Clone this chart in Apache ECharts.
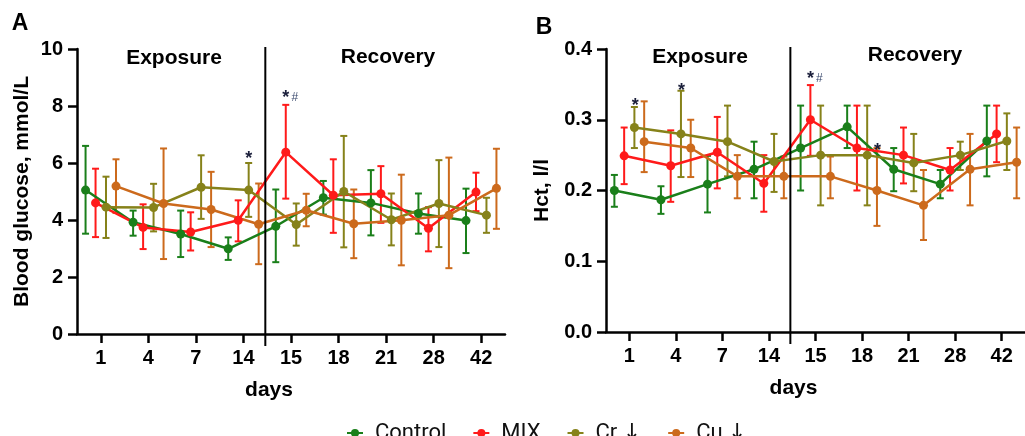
<!DOCTYPE html>
<html>
<head>
<meta charset="utf-8">
<script src="https://cdn.jsdelivr.net/npm/echarts@6/dist/echarts.min.js"></script>
<style>
  html, body { margin: 0; padding: 0; background: #fff; }
  #chart { width: 1025px; height: 436px; }
</style>
</head>
<body>
<div id="chart"></div>
<script>
// days on the x axis
const days = ['1', '4', '7', '14', '15', '18', '21', '28', '42'];

// blood glucose, mmol/L: [mean, lower whisker, upper whisker]
const glucoseControl = [[5.05, 3.52, 6.60], [3.92, 3.45, 4.33], [3.51, 2.70, 4.33], [2.99, 2.60, 3.39], [3.78, 2.52, 5.07], [4.78, 4.19, 5.37], [4.60, 3.46, 5.75], [4.23, 3.52, 4.93], [3.98, 2.84, 5.10]];
const glucoseMix = [[4.60, 3.40, 5.80], [3.74, 2.98, 4.55], [3.58, 2.93, 4.27], [3.99, 3.25, 4.69], [6.38, 4.75, 8.04], [4.87, 3.55, 6.13], [4.92, 3.90, 5.89], [3.71, 2.90, 4.45], [4.98, 4.31, 5.66]];
const glucoseCr = [[4.45, 3.37, 5.52], [4.44, 3.60, 5.27], [5.15, 4.04, 6.27], [5.05, 4.11, 6.00], [3.84, 3.10, 4.58], [5.00, 3.04, 6.95], [4.01, 3.11, 4.93], [4.58, 3.05, 6.10], [4.17, 3.55, 4.78]];
const glucoseCu = [[5.19, 4.25, 6.13], [4.58, 2.63, 6.51], [4.37, 3.05, 5.69], [3.85, 2.45, 5.28], [4.34, 3.78, 4.92], [3.87, 2.66, 5.07], [3.99, 2.41, 5.59], [4.17, 2.31, 6.19], [5.11, 3.69, 6.50]];

// Hct, l/l: [mean, lower whisker, upper whisker]
const hctControl = [[0.200, 0.177, 0.222], [0.187, 0.167, 0.206], [0.209, 0.169, 0.249], [0.230, 0.189, 0.269], [0.260, 0.200, 0.320], [0.290, 0.260, 0.320], [0.230, 0.199, 0.260], [0.209, 0.189, 0.229], [0.270, 0.220, 0.320]];
const hctMix = [[0.249, 0.209, 0.289], [0.235, 0.184, 0.285], [0.254, 0.203, 0.304], [0.210, 0.170, 0.250], [0.300, 0.249, 0.349], [0.260, 0.200, 0.320], [0.250, 0.210, 0.289], [0.229, 0.200, 0.260], [0.280, 0.240, 0.320]];
const hctCr = [[0.289, 0.260, 0.318], [0.280, 0.219, 0.341], [0.269, 0.220, 0.320], [0.241, 0.198, 0.280], [0.250, 0.179, 0.320], [0.250, 0.179, 0.320], [0.239, 0.199, 0.280], [0.250, 0.229, 0.269], [0.270, 0.229, 0.309]];
const hctCu = [[0.269, 0.226, 0.326], [0.260, 0.219, 0.300], [0.220, 0.189, 0.250], [0.220, 0.189, 0.248], [0.220, 0.189, 0.248], [0.200, 0.150, 0.260], [0.179, 0.130, 0.229], [0.230, 0.179, 0.280], [0.240, 0.189, 0.289]];

// significance marks: [x position (day slot), y value, text]
const glucoseNotes = [[3.11, 6.27, '*'], [3.89, 8.42, '*#']];
const hctNotes = [[0.13, 0.325, '*'], [1.12, 0.346, '*'], [3.89, 0.363, '*#'], [5.33, 0.261, '*']];

// slot where exposure ends and recovery starts
const splitAt = 3.46;

const groups = [
  { name: 'Control', color: '#1a7f1a', shift: -0.32 },
  { name: 'MIX', color: '#ff1a1a', shift: -0.11 },
  { name: 'Cr ↓', color: '#86821a', shift: 0.11 },
  { name: 'Cu ↓', color: '#cc6a1c', shift: 0.32 }
];

const FONT = '"Liberation Sans", Arial, sans-serif';

function errorBars(color) {
  return function (params, api) {
    const x = api.value(0);
    const top = api.coord([x, api.value(2)]);
    const bot = api.coord([x, api.value(1)]);
    const st = { stroke: color, lineWidth: 2 };
    return {
      type: 'group',
      children: [
        { type: 'line', shape: { x1: top[0], y1: top[1], x2: bot[0], y2: bot[1] }, style: st },
        { type: 'line', shape: { x1: top[0] - 3.5, y1: top[1], x2: top[0] + 3.5, y2: top[1] }, style: st },
        { type: 'line', shape: { x1: bot[0] - 3.5, y1: bot[1], x2: bot[0] + 3.5, y2: bot[1] }, style: st }
      ]
    };
  };
}

function buildPanel(xValIdx, yIdx, sets, notes, yMax) {
  const out = [];
  sets.forEach((set, i) => {
    const g = groups[i];
    out.push({
      name: g.name + ' sd',
      type: 'custom',
      xAxisIndex: xValIdx,
      yAxisIndex: yIdx,
      renderItem: errorBars(g.color),
      encode: { x: 0, y: [1, 2] },
      data: set.map((d, k) => [k + g.shift, d[1], d[2]]),
      z: 2,
      silent: true
    });
  });
  sets.forEach((set, i) => {
    const g = groups[i];
    out.push({
      name: g.name,
      type: 'line',
      xAxisIndex: xValIdx,
      yAxisIndex: yIdx,
      symbol: 'circle',
      symbolSize: 9,
      color: g.color,
      lineStyle: { color: g.color, width: 2.5 },
      itemStyle: { color: g.color },
      data: set.map((d, k) => [k + g.shift, d[0]]),
      z: 3
    });
  });
  // separator between exposure and recovery
  out.push({
    type: 'custom',
    xAxisIndex: xValIdx,
    yAxisIndex: yIdx,
    silent: true,
    data: [[splitAt, 0, yMax]],
    renderItem: function (params, api) {
      const top = api.coord([api.value(0), api.value(2)]);
      const bot = api.coord([api.value(0), api.value(1)]);
      return {
        type: 'line',
        shape: { x1: top[0], y1: top[1] - 2, x2: bot[0], y2: bot[1] + 12 },
        style: { stroke: '#000', lineWidth: 2 }
      };
    },
    z: 4
  });
  // significance marks
  out.push({
    type: 'custom',
    xAxisIndex: xValIdx,
    yAxisIndex: yIdx,
    silent: true,
    data: notes.map(n => [n[0], n[1]]),
    renderItem: function (params, api) {
      const n = notes[params.dataIndex];
      const p = api.coord([api.value(0), api.value(1)]);
      const kids = [{
        type: 'text',
        x: p[0], y: p[1] + 4,
        style: { text: '*', fill: '#1b1f3b', font: 'bold 18px ' + FONT, align: 'center', verticalAlign: 'middle' }
      }];
      if (n[2].indexOf('#') >= 0) {
        kids.push({
          type: 'text',
          x: p[0] + 9, y: p[1] + 4,
          style: { text: '#', fill: '#3b4a6e', font: '12px ' + FONT, align: 'center', verticalAlign: 'middle' }
        });
      }
      return { type: 'group', children: kids };
    },
    z: 5
  });
  return out;
}

const axisText = { color: '#000', fontWeight: 'bold', fontSize: 20, fontFamily: FONT };
const axisLine = { show: true, onZero: false, lineStyle: { color: '#000', width: 2.5 } };
const axisTick = { show: true, length: 9, lineStyle: { color: '#000', width: 2.5 } };

function catAxis(gridIndex) {
  return {
    type: 'category',
    gridIndex: gridIndex,
    data: days,
    boundaryGap: true,
    axisLine: axisLine,
    axisTick: Object.assign({ alignWithLabel: true, interval: 0 }, axisTick),
    axisLabel: Object.assign({ margin: 14, interval: 0 }, axisText),
    splitLine: { show: false },
    name: 'days',
    nameLocation: 'middle',
    nameGap: 46,
    nameTextStyle: { color: '#000', fontWeight: 'bold', fontSize: 21, fontFamily: FONT, padding: [0, 44, 0, 0] }
  };
}

function valXAxis(gridIndex) {
  return { type: 'value', gridIndex: gridIndex, min: -0.5, max: 8.5, show: false, axisLine: { onZero: false } };
}

const chart = echarts.init(document.getElementById('chart'));

chart.setOption({
  animation: false,
  backgroundColor: '#fff',
  grid: [
    { left: 77, top: 49, width: 428, height: 285 },
    { left: 606, top: 49, width: 428, height: 283 }
  ],
  xAxis: [catAxis(0), valXAxis(0), catAxis(1), valXAxis(1)],
  yAxis: [
    {
      type: 'value', gridIndex: 0, min: 0, max: 10, interval: 2,
      axisLine: axisLine, axisTick: axisTick,
      axisLabel: Object.assign({ margin: 14 }, axisText),
      splitLine: { show: false },
      name: 'Blood glucose, mmol/L', nameLocation: 'middle', nameGap: 44,
      nameTextStyle: { color: '#000', fontWeight: 'bold', fontSize: 21, fontFamily: FONT }
    },
    {
      type: 'value', gridIndex: 1, min: 0, max: 0.4, interval: 0.1,
      axisLine: axisLine, axisTick: axisTick,
      axisLabel: Object.assign({ margin: 14, formatter: v => v.toFixed(1) }, axisText),
      splitLine: { show: false },
      name: 'Hct, l/l', nameLocation: 'middle', nameGap: 53,
      nameTextStyle: { color: '#000', fontWeight: 'bold', fontSize: 21, fontFamily: FONT }
    }
  ],
  legend: {
    data: groups.map(g => g.name),
    left: 341,
    top: 417,
    itemGap: 26,
    itemWidth: 16,
    itemHeight: 10,
    formatter: name => name.replace('↓', '{arr|↓}'),
    textStyle: {
      color: '#111', fontSize: 22, fontFamily: 'Roboto, "Liberation Sans", sans-serif',
      padding: [0, 0, 0, 7],
      rich: { arr: { color: '#111', fontSize: 22, fontFamily: '"DejaVu Sans"' } }
    }
  },
  graphic: [
    { type: 'text', x: 20, y: 24, style: { text: 'A', font: 'bold 23px ' + FONT, fill: '#000', align: 'center', verticalAlign: 'middle' } },
    { type: 'text', x: 544, y: 28, style: { text: 'B', font: 'bold 23px ' + FONT, fill: '#000', align: 'center', verticalAlign: 'middle' } },
    { type: 'text', x: 174, y: 58, style: { text: 'Exposure', font: 'bold 21px ' + FONT, fill: '#000', align: 'center', verticalAlign: 'middle' } },
    { type: 'text', x: 388, y: 57, style: { text: 'Recovery', font: 'bold 21px ' + FONT, fill: '#000', align: 'center', verticalAlign: 'middle' } },
    { type: 'text', x: 700, y: 57, style: { text: 'Exposure', font: 'bold 21px ' + FONT, fill: '#000', align: 'center', verticalAlign: 'middle' } },
    { type: 'text', x: 915, y: 55, style: { text: 'Recovery', font: 'bold 21px ' + FONT, fill: '#000', align: 'center', verticalAlign: 'middle' } }
  ],
  series: [].concat(
    buildPanel(1, 0, [glucoseControl, glucoseMix, glucoseCr, glucoseCu], glucoseNotes, 10),
    buildPanel(3, 1, [hctControl, hctMix, hctCr, hctCu], hctNotes, 0.4)
  )
});
</script>
</body>
</html>
